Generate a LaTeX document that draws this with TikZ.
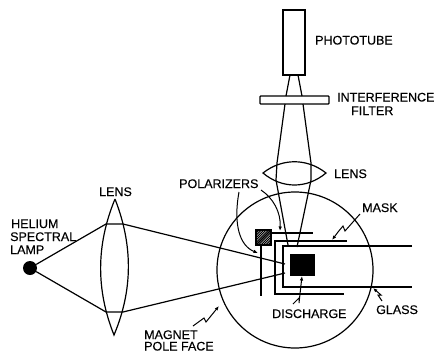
\documentclass[tikz,border=0pt]{standalone}
\usepackage{fontspec}
\setmainfont{Liberation Sans}[FakeBold=0.25]
\usetikzlibrary{arrows.meta}
\tikzset{
  optic/.style={line width=1.2pt,black},
  heavy/.style={line width=2.1pt,black},
  leader/.style={line width=1pt,black,-{Latex[length=4.5pt,width=3.5pt]}},
  lbl/.style={inner sep=0pt,font=\fontsize{12.5}{12.5}\selectfont,anchor=base west},
}
\begin{document}
\begin{tikzpicture}[x=1pt,y=-1pt]
\useasboundingbox (0,0) rectangle (437,354);
\fill[white] (0,0) rectangle (437,354);
% lamp
\node[circle,fill=black,inner sep=0pt,minimum size=14pt] (lamp) at (30,268) {};
% lens 1
\draw[optic] (115,199) .. controls (96,245) and (96,290) .. (114,335)
             .. controls (133,290) and (133,245) .. (115,199);
% rays, lamp to discharge
\coordinate (ua) at (106,224); \coordinate (ub) at (123,224); \coordinate (uc) at (285,264);
\coordinate (la) at (106,312); \coordinate (lb) at (123,312); \coordinate (lc) at (285,273);
\draw[optic] (lamp) -- (ua) -- (ub) -- (uc);
\draw[optic] (lamp) -- (la) -- (lb) -- (lc);
% pole face
\draw[optic] (295,270) circle (78);
% phototube + filter
\node[draw,optic,minimum width=22pt,minimum height=65pt,inner sep=0pt] (tube) at (294,42.5) {};
\node[draw,optic,minimum width=69pt,minimum height=8pt,inner sep=0pt,rounded corners=0.8pt] (filter) at (294.5,100) {};
% upper lens
\draw[optic] (263,173) .. controls (282,158) and (307,158) .. (326,173)
             .. controls (307,189) and (282,189) .. (263,173) -- cycle;
% rays upward
\draw[optic] (290,75) -- (286,96) (298,75) -- (302,96);
\draw[optic] (285,104) -- (277,163) -- (276,180) -- (288,245);
\draw[optic] (303,104) -- (311,163) -- (311,180) -- (297,247);
% polarizers
\draw[heavy] (261,233) -- (261,296);
\draw[heavy] (271,233) -- (313,233);
\fill[white] (256,230) rectangle (271,245);
\begin{scope}
  \clip (256,230) rectangle (271,245);
  \foreach \k in {0,2.4,...,31} {
    \draw[line width=1.1pt] (256+\k,245) -- (256+\k+16,229);
    \draw[line width=1.1pt] (256-\k,245) -- (256-\k+16,229);
  }
\end{scope}
\draw[line width=1.3pt] (256,230) rectangle (271,245);
% mask and glass
\draw[heavy] (347,241) -- (275,241) -- (275,294) -- (344,294);
\draw[line width=1.5pt] (412,246) -- (283,246) -- (283,287) -- (412,287);
% discharge
\node[fill=black,minimum width=25pt,minimum height=22pt,inner sep=0pt] (dis) at (302.5,265) {};
% labels
\node[lbl] (tphoto) at (315,44.5) {PHOTOTUBE};
\node[lbl] (tint) at (337,101.5) {INTERFERENCE};
\node[lbl] (tfil) at (351,115) {FILTER};
\node[lbl] (tlens) at (334,178) {LENS};
\node[lbl] (tpol) at (179,188) {POLARIZERS};
\node[lbl] (tmask) at (362,212) {MASK};
\node[lbl] (tlens2) at (99,196) {LENS};
\node[lbl] (thel) at (11,228) {HELIUM};
\node[lbl] (tspec) at (10,241) {SPECTRAL};
\node[lbl] (tlamp) at (10,254) {LAMP};
\node[lbl] (tmag) at (144,339) {MAGNET};
\node[lbl] (tpole) at (144,350.5) {POLE FACE};
\node[lbl] (tdis) at (272,318) {DISCHARGE};
\node[lbl] (tglass) at (376,314) {GLASS};
% leaders
\coordinate (p1) at (239,192); \coordinate (p2) at (258,253);
\coordinate (p3) at (261,190); \coordinate (p4) at (280,231);
\draw[leader] (p1) .. controls (233,225) and (240,246) .. (p2);
\draw[leader] (p3) .. controls (273,198) and (281,212) .. (p4);
\coordinate (m1) at (360,214); \coordinate (m2) at (332,240);
\draw[leader] (m1) -- (345,231) -- (343,226) -- (338,232) -- (m2);
\coordinate (d1) at (293,304); \coordinate (d2) at (302,276);
\draw[leader] (d1) -- (299,298) -- (299,303) -- (d2);
\coordinate (g1) at (382,301); \coordinate (g2) at (373,288);
\draw[leader] (g1) -- (378,295) -- (381,295) -- (g2);
\coordinate (f1) at (193,326); \coordinate (f2) at (219,306);
\draw[leader] (f1) -- (204,318) -- (206,322) -- (f2);
\end{tikzpicture}
\end{document}
